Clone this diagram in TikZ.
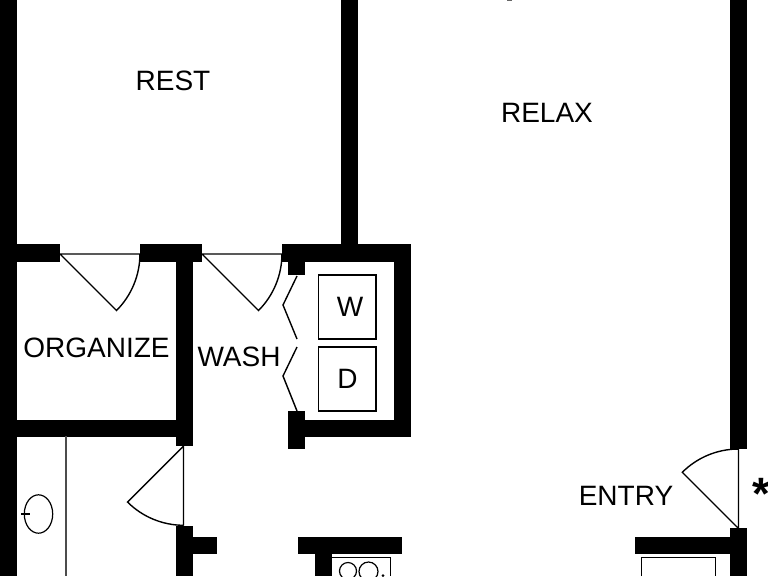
\documentclass[tikz,border=0pt]{standalone}
\usepackage{fontspec}
\setmainfont{Liberation Sans}
\tikzset{
  wall/.style={fill=black,draw=none},
  thin line/.style={draw=black,line width=1.05pt},
  fixture/.style={draw=black,line width=0.9pt},
  room/.style={inner sep=0pt,font=\fontsize{21}{24}\selectfont,text=black}
}
\begin{document}
\begin{tikzpicture}[x=0.75pt,y=-0.75pt]
\useasboundingbox (0,0) rectangle (768,576);
% walls
\fill[wall] (0,0) rectangle (16.5,576);
\fill[wall] (16,244) rectangle (60,262);
\fill[wall] (140,244) rectangle (202,262);
\fill[wall] (176,262) rectangle (193,446);
\fill[wall] (16,419.5) rectangle (176,436.5);
\fill[wall] (341,0) rectangle (358,244);
\fill[wall] (282,244) rectangle (411,262);
\fill[wall] (393.5,262) rectangle (411,436.5);
\fill[wall] (288,419.5) rectangle (394,436.5);
\fill[wall] (288,411) rectangle (305,449);
\fill[wall] (288,262) rectangle (305,275);
\fill[wall] (176,525.5) rectangle (193,576);
\fill[wall] (193,537) rectangle (217,554);
\fill[wall] (298,537) rectangle (402,554);
\fill[wall] (315,554) rectangle (332,576);
\fill[wall] (730,0) rectangle (747,449);
\fill[wall] (730,528) rectangle (747,576);
\fill[wall] (635,537) rectangle (730,554);
% doors
\draw[thin line] (60,254) -- (140,254) (60,254) -- (116.5,310.5) arc[start angle=45,end angle=0,radius=80];
\draw[thin line] (202,254) -- (282,254) (202,254) -- (258.5,310.5) arc[start angle=45,end angle=0,radius=80];
\draw[thin line] (183.5,446) -- (183.5,525.5) (183.5,446) -- (127.5,502) arc[start angle=135,end angle=90,radius=79.5];
\draw[thin line] (738.5,449) -- (738.5,528.5) (738.5,528.5) -- (682.3,472.3) arc[start angle=225,end angle=270,radius=79.5];
% bifold
\draw[thin line] (297,276) -- (283,305) -- (297,339);
\draw[thin line] (297,347) -- (283,376) -- (297,411);
% appliances
\draw[fixture] (318.7,275) rectangle (376,339);
\draw[fixture] (318.7,347) rectangle (376,411);
\draw[fixture] (641.7,576) -- (641.7,557.5) -- (715.7,557.5) -- (715.7,576);
\draw[fixture] (332,557.5) -- (390.7,557.5) -- (390.7,576);
\draw[fixture] (348,571) circle[radius=8.5];
\draw[fixture] (368.5,571.5) circle[radius=9.5];
\fill (383,575.5) circle[radius=1.5];
% bath
\draw[draw=black!70,line width=0.9pt] (66,436) -- (66,576);
\draw[fixture] (38.5,514) ellipse[x radius=14.2,y radius=19.2];
\draw[line width=1.2pt] (21,514) -- (30,514);
\fill[black!60] (507,0) rectangle (512,1);
% labels
\node[room] (rest) at (173,80.5) {REST};
\node[room] (relax) at (547,112.5) {RELAX};
\node[room] (organize) at (96.5,347.5) {ORGANIZE};
\node[room] (wash) at (239,356.5) {WASH};
\node[room] (entry) at (626,496) {ENTRY};
\node[room] (w) at (350,306.5) {W};
\node[room] (d) at (347.5,378.5) {D};
\node[inner sep=0pt,font=\fontsize{34}{36}\selectfont\bfseries] (star) at (761,494) {*};
\end{tikzpicture}
\end{document}
